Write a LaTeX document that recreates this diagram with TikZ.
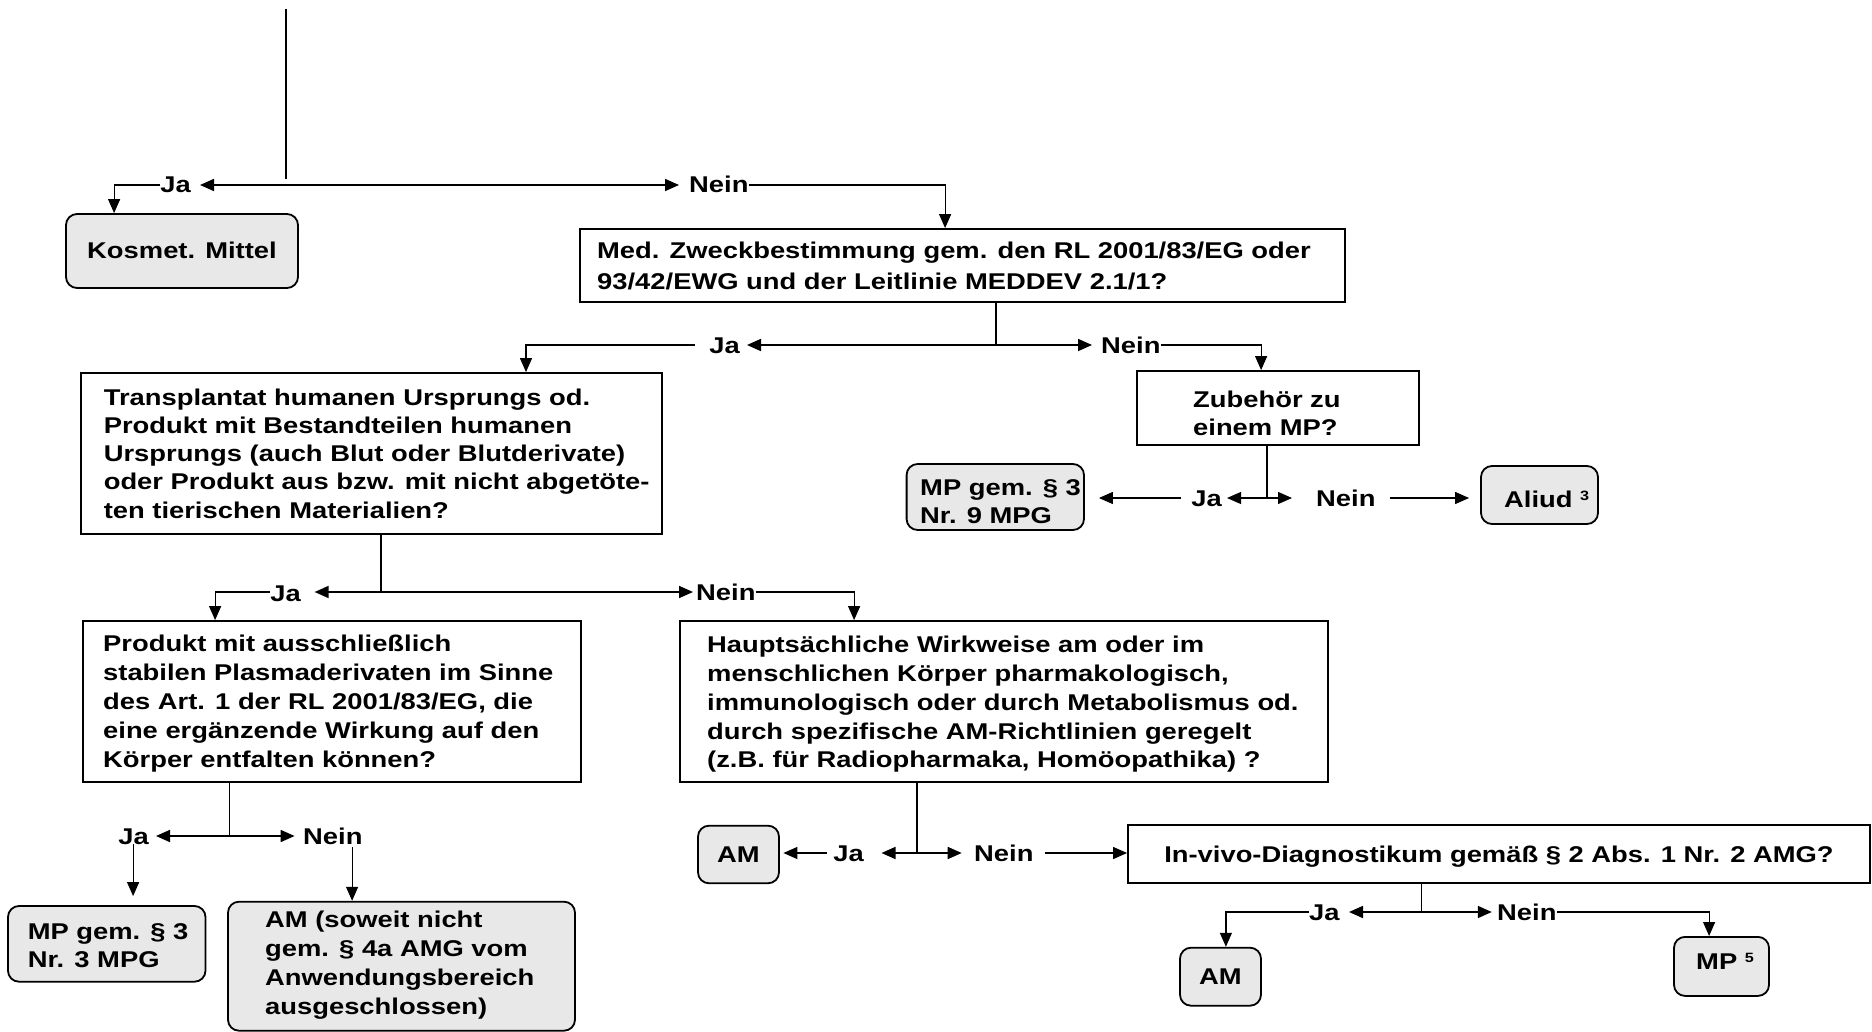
\documentclass[tikz,border=0pt]{standalone}
\usepackage{fontspec}
\setmainfont{Liberation Sans}[FakeStretch=1.2]
\usetikzlibrary{arrows.meta,calc}
\newcommand\supnum[1]{{\fontsize{13.5}{13.5}\selectfont\raisebox{6.5pt}{#1}}}
\begin{document}
\begin{tikzpicture}[x=1pt,y=-1pt,
  >={Triangle[length=14pt,width=12pt]},
  qbox/.style={draw, line width=1.8pt, inner sep=0pt, font=\bfseries\fontsize{22.8}{28.6}\selectfont},
  rbox/.style={qbox, rounded corners=11pt, fill=black!9},
  one/.style={text height=16pt, text depth=0pt},
  txt/.style={inner sep=0pt, align=left, anchor=west, font=\bfseries\fontsize{22.8}{28.6}\selectfont},
  lbl/.style={inner sep=0pt, text height=16pt, text depth=0pt, font=\bfseries\fontsize{22.8}{28.6}\selectfont},
  thinl/.style={line width=1.2pt},
  thk/.style={line width=1.7pt}]
\useasboundingbox (0,0) rectangle (1872,1032);

% ---------- boxes ----------
\node[rbox, one, minimum width=232pt, minimum height=74pt] (kos) at (182,251) {Kosmet. Mittel};

\node[qbox, minimum width=765pt, minimum height=73pt] (med) at (962.5,265.5) {};
\node[txt, font=\bfseries\fontsize{22.8}{31.7}\selectfont] (medT) at (597,266)
  {Med. Zweckbestimmung gem. den RL 2001/83/EG oder\\93/42/EWG und der Leitlinie MEDDEV 2.1/1?};

\node[qbox, minimum width=581pt, minimum height=161pt] (trans) at (371.4,453.5) {};
\node[txt, font=\bfseries\fontsize{22.8}{28.3}\selectfont] (transT) at (103.6,453.5)
  {Transplantat humanen Ursprungs od.\\Produkt mit Bestandteilen humanen\\Ursprungs (auch Blut oder Blutderivate)\\oder Produkt aus bzw. mit nicht abgetöte-\\ten tierischen Materialien?};

\node[qbox, minimum width=282pt, minimum height=74pt] (zub) at (1278,408) {};
\node[txt, font=\bfseries\fontsize{22.8}{28}\selectfont] (zubT) at (1193,413) {Zubehör zu\\einem MP?};

\node[rbox, minimum width=177.4pt, minimum height=66pt] (mp9) at (995.3,497) {};
\node[txt, font=\bfseries\fontsize{22.8}{28.5}\selectfont] (mp9T) at (920,501.5) {MP gem. § 3\\Nr. 9 MPG};

\node[rbox, minimum width=117pt, minimum height=58pt] (aliud) at (1539.5,495) {};
\node[lbl, anchor=west] (aliudT) at (1504,499) {Aliud \supnum{3}};

\node[qbox, minimum width=498pt, minimum height=161pt] (prod) at (332,701.5) {};
\node[txt, font=\bfseries\fontsize{22.8}{29}\selectfont] (prodT) at (103,704)
  {Produkt mit ausschließlich\\stabilen Plasmaderivaten im Sinne\\des Art. 1 der RL 2001/83/EG, die\\eine ergänzende Wirkung auf den\\Körper entfalten können?};

\node[qbox, minimum width=648pt, minimum height=161pt] (haupt) at (1004,701.5) {};
\node[txt, font=\bfseries\fontsize{22.8}{28.75}\selectfont] (hauptT) at (707,704.5)
  {Hauptsächliche Wirkweise am oder im\\menschlichen Körper pharmakologisch,\\immunologisch oder durch Metabolismus od.\\durch spezifische AM-Richtlinien geregelt\\(z.B. für Radiopharmaka, Homöopathika) ?};

\node[rbox, minimum width=197.5pt, minimum height=75.7pt] (mp3) at (106.75,943.85) {};
\node[txt, font=\bfseries\fontsize{22.8}{28.3}\selectfont] (mp3T) at (27.6,946) {MP gem. § 3\\Nr. 3 MPG};

\node[rbox, minimum width=347pt, minimum height=129pt] (amx) at (401.5,966.2) {};
\node[txt, font=\bfseries\fontsize{22.8}{28.8}\selectfont] (amxT) at (265,965)
  {AM (soweit nicht\\gem. § 4a AMG vom\\Anwendungsbereich\\ausgeschlossen)};

\node[rbox, one, minimum width=81pt, minimum height=57.6pt] (am1) at (738.5,854.5) {AM};
\node[qbox, one, minimum width=742pt, minimum height=58pt] (invivo) at (1499,854)
  {In-vivo-Diagnostikum gemäß § 2 Abs. 1 Nr. 2 AMG?};
\node[rbox, one, minimum width=81pt, minimum height=58pt] (am2) at (1220.5,976.7) {AM};
\node[rbox, minimum width=95pt, minimum height=59pt] (mp5) at (1721.5,966.4) {};
\node[lbl, anchor=west] (mp5T) at (1696,961) {MP \supnum{5}};

% ---------- split points ----------
\coordinate (s0) at (286,9);
\coordinate (s1) at (286,185);
\coordinate (s2) at (996,345);
\coordinate (s3) at (1267,498);
\coordinate (s4) at (381,592);
\coordinate (s5) at (229.6,836);
\coordinate (s6) at (917,853);
\coordinate (s7) at (1421.6,912);

% ---------- labels ----------
\node[lbl, anchor=east] (ja1) at (191,185) {Ja};
\node[lbl, anchor=west] (nein1) at (689,185) {Nein};
\node[lbl, anchor=east] (ja2) at (740,345) {Ja};
\node[lbl, anchor=west] (nein2) at (1101,345) {Nein};
\node[lbl, anchor=east] (ja3) at (1222,498) {Ja};
\node[lbl, anchor=west] (nein3) at (1316,498) {Nein};
\node[lbl, anchor=east] (ja4) at (301,593) {Ja};
\node[lbl, anchor=west] (nein4) at (696,592) {Nein};
\node[lbl, anchor=east] (ja5) at (149,836) {Ja};
\node[lbl, anchor=west] (nein5) at (303,836) {Nein};
\node[lbl, anchor=east] (ja6) at (864,853) {Ja};
\node[lbl, anchor=west] (nein6) at (974,853) {Nein};
\node[lbl, anchor=east] (ja7) at (1339.8,912) {Ja};
\node[lbl, anchor=west] (nein7) at (1497,912) {Nein};

% ---------- level 1 ----------
\draw[thinl] (s0) -- ([yshift=6pt]s1);
\draw[thk,<->] ([xshift=-86pt]s1) -- ([xshift=393pt]s1);
\draw[thinl,->] (ja1.west) -| ([xshift=49pt]kos.north west);
\draw[thinl,->] (nein1.east) -| ([xshift=366pt]med.north west);

% ---------- level 2 ----------
\draw[thinl] (s2 |- med.south) -- (s2);
\draw[thk,<->] ([xshift=-249pt]s2) -- ([xshift=96pt]s2);
\draw[thinl,->] ([xshift=-14pt]ja2.west) -| ([xshift=446pt]trans.north west);
\draw[thinl,->] (nein2.east) -| ([xshift=125pt]zub.north west);

% ---------- Zubehoer ----------
\draw[thinl] (s3 |- zub.south) -- (s3);
\draw[thinl,<->] ([xshift=-40pt]s3) -- ([xshift=25pt]s3);
\draw[thinl,->,shorten >=14pt] ([xshift=-10pt]ja3.west) -- (ja3.west -| mp9.east);
\draw[thinl,->,shorten >=11pt] ([xshift=14pt]nein3.east) -- (nein3.east -| aliud.west);

% ---------- Transplantat ----------
\draw[thinl] (s4 |- trans.south) -- (s4);
\draw[thk,<->] ([xshift=-66.4pt]s4) -- ([xshift=312pt]s4);
\draw[thinl,->] ([yshift=1pt]ja4.west) -| ([xshift=133pt]prod.north west);
\draw[thinl,->] (nein4.east) -| ([xshift=175pt]haupt.north west);

% ---------- Produkt ----------
\draw[thinl] (s5 |- prod.south) -- (s5);
\draw[thk,<->] ([xshift=-73.6pt]s5) -- ([xshift=65pt]s5);
\draw[thinl,->] ([xshift=126pt,yshift=61pt]mp3.north west) -- ([xshift=126pt,yshift=9pt]mp3.north west);
\draw[thinl,->] ([xshift=125pt,yshift=54pt]amx.north west) -- ([xshift=125pt]amx.north west);

% ---------- Hauptsaechliche ----------
\draw[thinl] (s6 |- haupt.south) -- (s6);
\draw[thk,<->] ([xshift=-35.5pt]s6) -- ([xshift=44.7pt]s6);
\draw[thinl,->,shorten >=3.5pt] ([xshift=-6pt]ja6.west) -- (ja6.west -| am1.east);
\draw[thinl,->] ([xshift=11pt]nein6.east) -- (nein6.east -| invivo.west);

% ---------- In-vivo ----------
\draw[thinl] (s7 |- invivo.south) -- (s7);
\draw[thk,<->] ([xshift=-72.6pt]s7) -- ([xshift=70.2pt]s7);
\draw[thinl,->] (ja7.west) -| ([xshift=46.8pt]am2.north west);
\draw[thinl,->] (nein7.east) -| ([xshift=36pt]mp5.north west);
\end{tikzpicture}
\end{document}
